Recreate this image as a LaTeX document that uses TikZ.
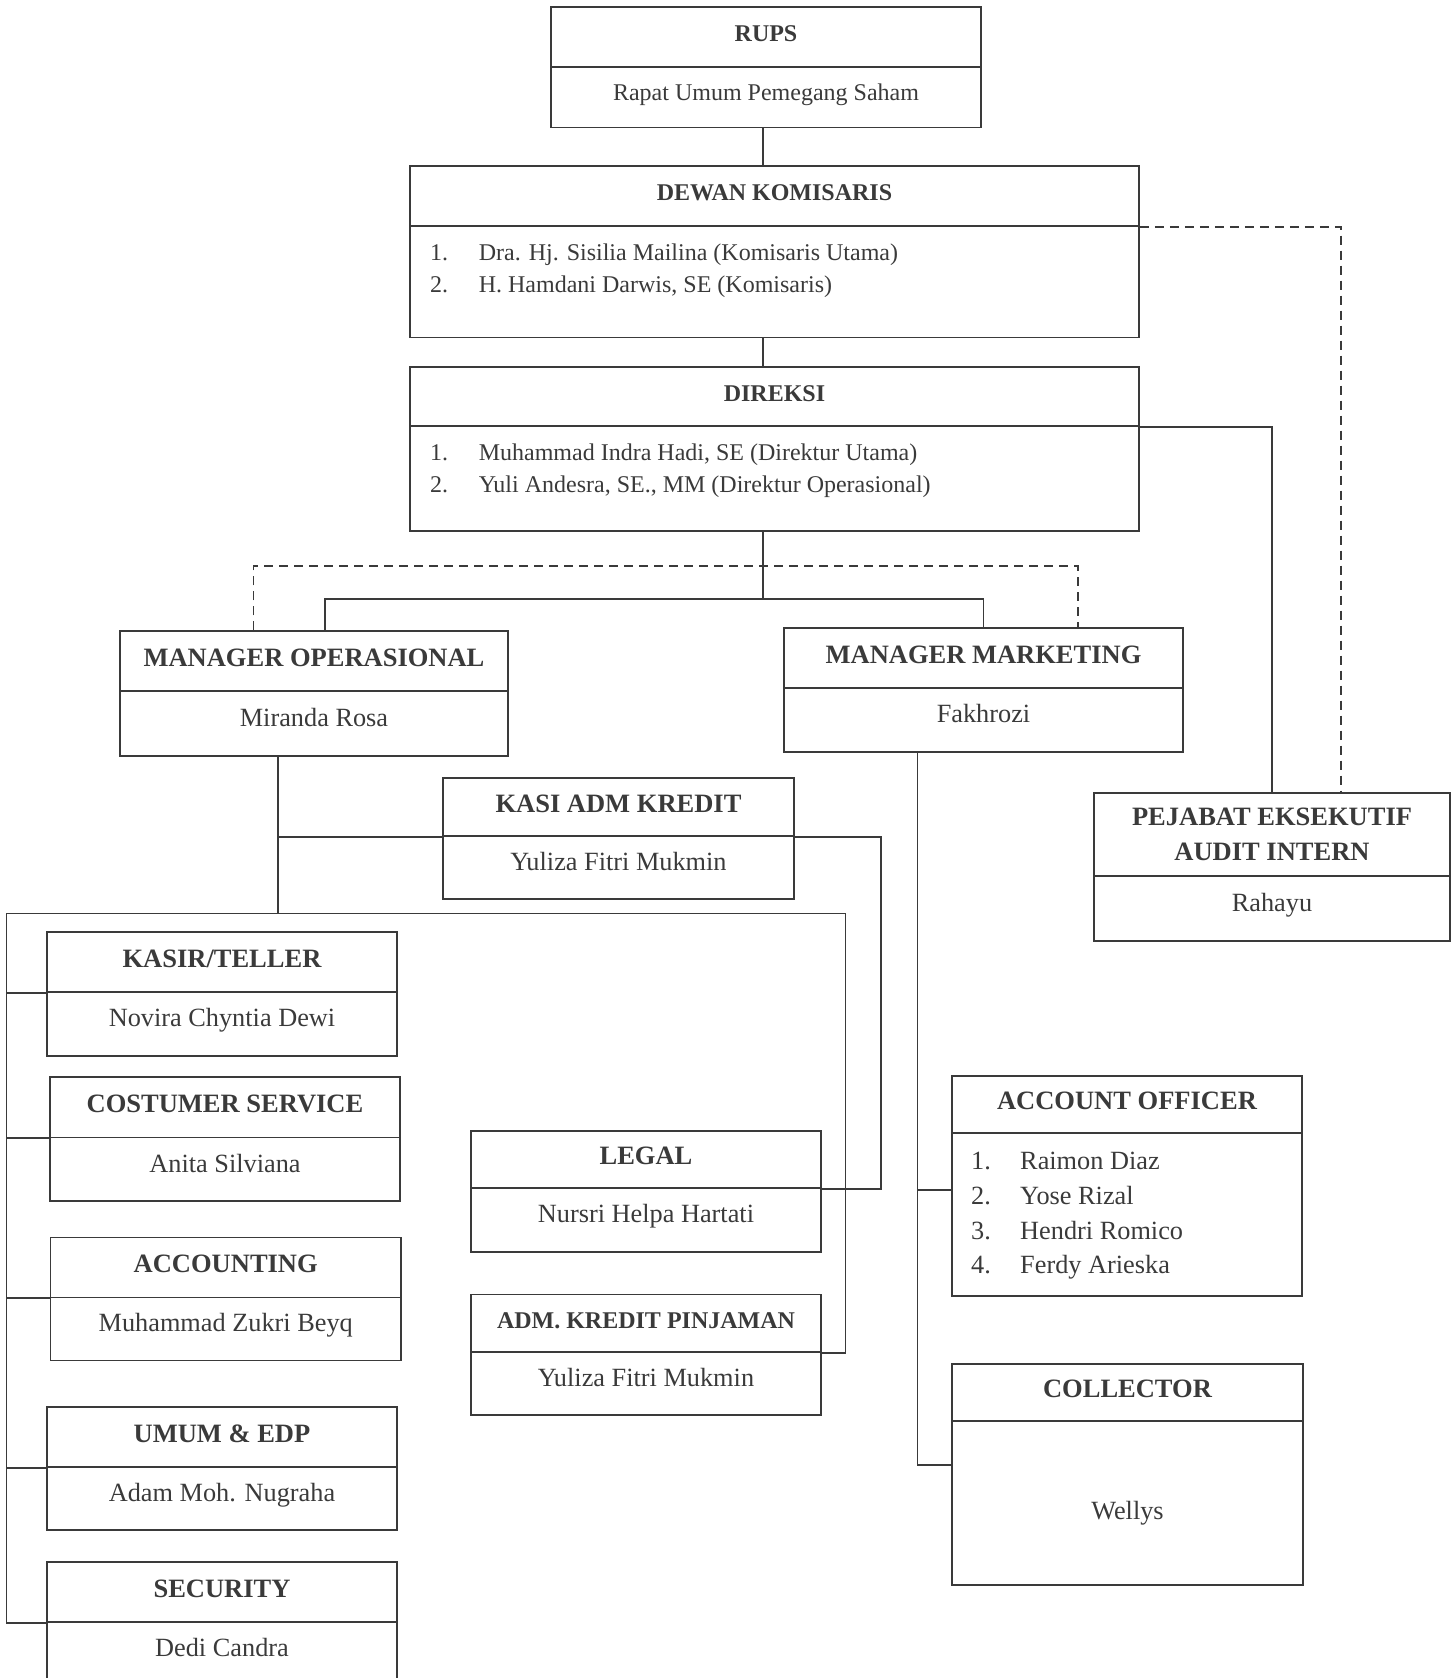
\documentclass[tikz,border=0pt]{standalone}
\usepackage{fontspec}
\setmainfont{Liberation Serif}
\usetikzlibrary{positioning}
\definecolor{ink}{HTML}{3A3A3A}
\tikzset {
    style head/.style={
        draw=ink,
        text=ink,
        line width=1.5pt,
        rectangle, % Set the shape as a rectangle
        inner sep=0pt,
        align=center,
        font=\fontsize{26.5}{35}\selectfont\bfseries,
        text depth=7pt,
    },
    style top/.style={
        style head,
        font=\fontsize{24}{30}\selectfont\bfseries,
        text depth=6pt,
    },
    style body/.style={
        draw=ink,
        text=ink,
        line width=1.5pt,
        rectangle, % Set the shape as a rectangle
        inner sep=0pt,
        align=center,
        font=\fontsize{26.3}{34.8}\selectfont,
        text depth=12.6pt,
    },
    style list/.style={
        text=ink,
        inner sep=0pt,
        anchor=base west,
        font=\fontsize{24}{32.5}\selectfont,
    },
    style link/.style={
        draw=ink,
        line width=1.6pt,
    },
    style dash/.style={
        style link,
        dash pattern=on 9pt off 6pt,
    },
}

\begin{document}
\begin{tikzpicture}
[x=1pt, y=-1pt]
\useasboundingbox (0,0) rectangle (1452,1678);
\clip (0,0) rectangle (1452,1678);

% top of the chart
\node[style top, minimum width=430pt, minimum height=60pt] at (766, 37) (rups) {RUPS};
\node[style body, font=\fontsize{24}{30}\selectfont, text depth=10pt, minimum width=430pt, minimum height=60.5pt] at (766, 97.25) (rupsName) {Rapat Umum Pemegang Saham};
\node[style top, minimum width=729pt, minimum height=60pt] at (774.5, 196) (dewan) {DEWAN KOMISARIS};
\node[style body, minimum width=729pt, minimum height=111.5pt] at (774.5, 281.75) (dewanList) {};
\node[style list] at (430, 260.4) (dewanItems) {\begin{tabular}[t]{@{}p{48.6pt}@{}l@{}}1. & Dra. Hj. Sisilia Mailina (Komisaris Utama)\\ 2. & H. Hamdani Darwis, SE (Komisaris)\end{tabular}};
\node[style top, minimum width=729pt, minimum height=59pt] at (774.5, 396.5) (direksi) {DIREKSI};
\node[style body, minimum width=729pt, minimum height=105pt] at (774.5, 478.5) (direksiList) {};
\node[style list, font=\fontsize{24}{32}\selectfont] at (430, 460) (direksiItems) {\begin{tabular}[t]{@{}p{48.6pt}@{}l@{}}1. & Muhammad Indra Hadi, SE (Direktur Utama)\\ 2. & Yuli Andesra, SE., MM (Direktur Operasional)\end{tabular}};

% managers and audit
\node[style head, minimum width=388pt, minimum height=60pt] at (314, 661) (mo) {MANAGER OPERASIONAL};
\node[style body, minimum width=388pt, minimum height=65pt] at (314, 723.5) (moName) {Miranda Rosa};
\node[style head, minimum width=399pt, minimum height=60pt] at (983.5, 658) (mm) {MANAGER MARKETING};
\node[style body, minimum width=399pt, minimum height=64pt] at (983.5, 720) (mmName) {Fakhrozi};
\node[style head, text depth=0pt, minimum width=356pt, minimum height=83pt] at (1272, 834.5) (pejabat) {PEJABAT EKSEKUTIF\\AUDIT INTERN};
\node[style body, minimum width=356pt, minimum height=65pt] at (1272, 908.5) (pejabatName) {Rahayu};
\node[style head, minimum width=351pt, minimum height=58pt] at (618.5, 807) (kasi) {KASI ADM KREDIT};
\node[style body, minimum width=351pt, minimum height=63pt] at (618.5, 867.5) (kasiName) {Yuliza Fitri Mukmin};

% staff under operasional
\node[style head, minimum width=350pt, minimum height=60pt] at (222, 962) (kasir) {KASIR/TELLER};
\node[style body, minimum width=350pt, minimum height=64pt] at (222, 1024) (kasirName) {Novira Chyntia Dewi};
\node[style head, minimum width=350pt, minimum height=60.5pt] at (225, 1107.25) (cs) {COSTUMER SERVICE};
\node[style body, minimum width=350pt, minimum height=63.5pt] at (225, 1169.25) (csName) {Anita Silviana};
\node[style head, minimum width=350.5pt, minimum height=60pt] at (225.75, 1267.5) (acc) {ACCOUNTING};
\node[style body, minimum width=350.5pt, minimum height=63pt] at (225.75, 1329) (accName) {Muhammad Zukri Beyq};
\node[style head, minimum width=350pt, minimum height=60pt] at (222, 1437) (umum) {UMUM \& EDP};
\node[style body, minimum width=350pt, minimum height=63pt] at (222, 1498.5) (umumName) {Adam Moh. Nugraha};
\node[style head, minimum width=350pt, minimum height=60pt] at (222, 1592) (sec) {SECURITY};
\node[style body, minimum width=350pt, minimum height=64pt] at (222, 1654) (secName) {Dedi Candra};
\node[style head, minimum width=350pt, minimum height=57pt] at (646, 1159.5) (legal) {LEGAL};
\node[style body, minimum width=350pt, minimum height=64pt] at (646, 1220) (legalName) {Nursri Helpa Hartati};
\node[style head, font=\fontsize{24}{30}\selectfont\bfseries, text depth=6pt, minimum width=350pt, minimum height=57.5pt] at (646, 1323.25) (admkp) {ADM. KREDIT PINJAMAN};
\node[style body, minimum width=350pt, minimum height=63pt] at (646, 1383.5) (admkpName) {Yuliza Fitri Mukmin};

% staff under marketing
\node[style head, minimum width=350pt, minimum height=57pt] at (1127, 1104.5) (ao) {ACCOUNT OFFICER};
\node[style body, minimum width=350pt, minimum height=163pt] at (1127, 1214.5) (aoName) {};
\node[style list, font=\fontsize{26.3}{34.8}\selectfont] at (971, 1169.4) (aoItems) {\begin{tabular}[t]{@{}p{49pt}@{}l@{}}1. & Raimon Diaz\\ 2. & Yose Rizal\\ 3. & Hendri Romico\\ 4. & Ferdy Arieska\end{tabular}};
\node[style head, minimum width=351pt, minimum height=57pt] at (1127.5, 1392.5) (collector) {COLLECTOR};
\node[style body, text height=38pt, text depth=5pt, minimum width=351pt, minimum height=164pt] at (1127.5, 1503) (collectorName) {Wellys};

% bend points
\coordinate (spine) at (763, 0);
\coordinate (opBus) at (325, 599);
\coordinate (advL) at (253.6, 566);
\coordinate (advR) at (1078, 566);
\coordinate (auditDash) at (1341, 0);
\coordinate (opTrunk) at (278, 0);
\coordinate (staffL) at (6.3, 913.6);
\coordinate (staffR) at (845.6, 913.6);
\coordinate (kasiLink) at (881, 0);
\coordinate (mkTrunk) at (917.5, 0);

\draw[style link] (rupsName.south -| spine) -- (dewan.north -| spine);
\draw[style link] (dewanList.south -| spine) -- (direksi.north -| spine);
\draw[style link] (direksiList.south -| spine) -- (spine |- opBus);
\draw[style link] (mo.north -| opBus) -- (opBus) -| (mm.north);
\draw[style dash] (mo.north -| advL) -- (advL) -- (advR) -- (mm.north -| advR);
\draw[style dash] (dewan.south east) -| (pejabat.north -| auditDash);
\draw[style link] (direksi.south east) -| (pejabat.north);
\draw[style link] (moName.south -| opTrunk) -- (opTrunk |- staffL);
\draw[style link] (opTrunk |- kasi.south west) -- (kasi.south west);
\draw[style link] (sec.south west) -| (staffL) -- (staffR) |- (admkp.south east);
\draw[style link] (staffL |- kasir.south west) -- (kasir.south west);
\draw[style link] (staffL |- cs.south west) -- (cs.south west);
\draw[style link] (staffL |- acc.south west) -- (acc.south west);
\draw[style link] (staffL |- umum.south west) -- (umum.south west);
\draw[style link] (kasi.south east) -| (kasiLink |- legal.south east) -- (legal.south east);
\draw[style link] (mmName.south -| mkTrunk) |- ([yshift=38pt]collectorName.west);
\draw[style link] ([yshift=24.5pt]aoName.west) -- ++(-34.5,0);
\end{tikzpicture}
\end{document}
